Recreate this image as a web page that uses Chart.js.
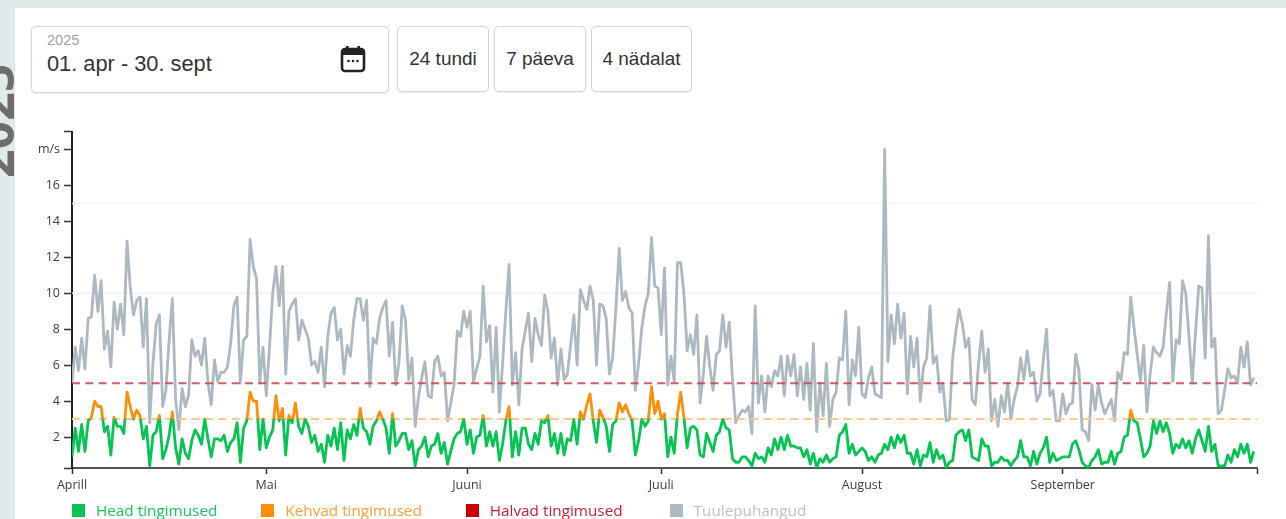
<!DOCTYPE html>
<html lang="et">
<head>
<meta charset="utf-8">
<title>Tuul</title>
<script src="https://cdn.jsdelivr.net/npm/chart.js@4/dist/chart.umd.min.js"></script>
<style>
    html, body { margin: 0; height: 100%; overflow: hidden; background: #dfeaea; }
    body { font-family: "Liberation Sans", sans-serif; color: #333; }
    #page { position: absolute; inset: 0; filter: blur(.5px); }
    .side-year { position: absolute; left: -31px; top: 178px; font: bold 50px/52px "Open Sans", sans-serif; color: #6e6c6c; transform-origin: 0 0; transform: rotate(-90deg); white-space: nowrap; }
    .panel { position: absolute; left: 15px; top: 8px; width: 1271px; height: 511px; background: #fff; }
    .box { position: absolute; top: 26px; height: 66px; box-sizing: border-box; border: 1.5px solid #d4d4d4; border-radius: 5px; background: #fff; box-shadow: 0 1px 2px rgba(0,0,0,.08); }
    .btn { display: flex; align-items: center; justify-content: center; font-size: 19px; color: #333; }
    .date { left: 31px; width: 358px; height: 67px; }
    .date small { position: absolute; left: 15px; top: 5px; font-size: 14.5px; color: #a2a2a2; }
    .date span { position: absolute; left: 15px; top: 24px; font-size: 21.8px; color: #333; }
    .date svg { position: absolute; left: 308px; top: 18px; }
    canvas { position: absolute; left: 15px; top: 120px; }
    .legend { position: absolute; left: 72px; top: 500px; display: flex; font: 15.3px "Open Sans", sans-serif; line-height: 20px; }
    .legend div { display: flex; align-items: center; margin-right: 44px; }
    .legend div:last-child { margin-left: 3px; }
    .legend i { width: 13px; height: 13px; margin-right: 11px; }
</style>
</head>
<body>
<div id="page">
<div class="side-year">2025</div>
<div class="panel"></div>
<div class="box date">
    <small>2025</small>
    <span>01. apr - 30. sept</span>
    <svg width="26" height="28" viewBox="0 0 26 28">
        <rect x="2" y="4" width="22" height="22" rx="3" fill="none" stroke="#222" stroke-width="2.6"/>
        <rect x="2" y="4" width="22" height="6" fill="#222"/>
        <rect x="6" y="1" width="2.6" height="5" fill="#222"/>
        <rect x="17.4" y="1" width="2.6" height="5" fill="#222"/>
        <circle cx="8.5" cy="16" r="1.3" fill="#222"/>
        <circle cx="13" cy="16" r="1.3" fill="#222"/>
        <circle cx="17.5" cy="16" r="1.3" fill="#222"/>
    </svg>
</div>
<div class="box btn" style="left:397px;width:92px">24 tundi</div>
<div class="box btn" style="left:494px;width:92px">7 päeva</div>
<div class="box btn" style="left:591px;width:101px">4 nädalat</div>
<canvas id="windChart" width="1271" height="380"></canvas>
<div class="legend" id="legend"></div>
</div>

<script>
// twice-daily readings, 1 apr - 30 sept, m/s
const gusts = [
    5.0,7.0,5.7,7.5,5.8,8.6,8.7,11.0,9.0,10.7,6.9,7.9,5.9,9.5,8.0,9.4,7.7,12.9,10.3,8.8,
    9.6,9.8,7.0,9.7,2.8,6.1,8.3,8.8,3.7,4.6,7.4,9.7,4.1,2.4,4.7,3.7,4.3,7.4,6.5,6.8,
    6.0,7.5,5.0,3.8,6.3,5.1,5.6,5.6,5.9,7.2,9.3,9.8,5.0,7.4,7.6,13.0,11.5,10.8,5.0,7.0,
    4.3,7.0,10.0,11.5,9.3,11.5,5.5,9.0,9.4,9.7,7.4,8.5,8.0,7.5,6.0,6.2,5.6,7.0,4.8,7.6,
    8.9,9.2,7.4,8.0,5.5,7.1,6.5,8.5,9.7,9.7,8.5,9.6,4.8,7.5,7.2,8.6,9.2,9.6,6.5,8.4,
    4.9,6.2,9.3,8.5,5.2,6.4,2.6,4.2,5.3,6.2,4.3,4.2,6.2,6.5,5.4,5.6,2.9,3.9,4.9,7.9,
    7.6,9.0,8.1,9.0,5.1,5.8,6.5,10.4,7.3,8.2,4.5,8.1,3.4,6.1,9.0,11.6,4.9,6.7,3.8,6.9,
    7.9,8.9,6.2,8.6,7.7,7.1,9.9,9.0,6.4,7.5,4.9,6.9,5.2,5.5,7.1,8.8,6.0,10.2,9.6,9.1,
    10.4,9.6,6.0,9.4,9.3,8.6,5.5,6.4,9.2,12.5,9.6,10.1,9.2,8.9,4.6,6.1,8.1,9.3,10.0,13.1,
    10.4,10.3,7.7,11.4,4.9,6.5,5.1,11.7,11.7,10.0,6.8,7.7,6.6,8.8,3.9,5.5,7.6,5.9,4.6,6.6,
    6.8,8.8,7.0,8.4,5.2,2.8,3.2,3.5,3.4,3.7,2.2,9.3,3.9,5.4,3.4,5.4,4.8,5.7,5.4,6.5,
    4.3,6.5,5.4,6.6,4.3,5.9,4.1,6.1,3.5,7.2,2.3,5.0,3.2,6.1,2.6,4.1,4.5,6.4,6.3,9.0,
    3.8,6.3,5.4,8.1,4.4,4.2,5.3,5.9,4.4,4.3,4.2,18.0,6.2,8.8,7.2,9.4,7.5,8.9,4.4,7.6,
    5.9,7.5,4.0,5.9,6.4,9.3,6.1,6.5,4.5,5.0,2.9,3.0,6.4,7.9,9.1,8.3,7.0,7.5,4.1,3.8,
    6.1,7.9,5.6,6.9,2.9,4.1,2.6,4.3,3.4,5.0,3.0,4.1,4.8,6.4,5.2,6.8,5.4,5.6,4.0,4.4,
    6.3,8.0,4.3,4.6,2.9,2.9,4.4,3.3,3.8,3.9,6.6,5.7,2.4,2.3,1.8,4.9,3.5,4.9,3.9,3.3,
    3.7,4.1,2.9,5.6,5.2,6.7,6.6,9.8,8.1,6.6,5.1,7.1,3.4,5.5,7.0,6.7,6.5,7.0,8.9,10.6,
    5.1,7.4,7.2,10.7,10.0,7.6,5.0,7.8,10.4,10.3,6.4,13.2,7.0,7.5,3.3,3.5,4.6,5.8,5.3,5.4,
    5.0,7.0,5.9,7.3,4.9,5.3
];
const wind = [
    0.9,2.5,1.2,2.7,1.2,2.9,3.1,4.0,3.7,3.7,2.3,2.6,1.0,3.1,2.6,2.6,2.2,4.5,3.7,3.0,
    3.5,3.2,1.9,2.6,0.4,2.1,2.3,3.2,0.8,1.3,2.1,3.4,1.4,0.5,1.9,1.1,0.8,1.8,2.4,2.1,
    1.6,3.0,1.9,0.9,1.9,1.9,1.8,2.1,1.2,1.7,1.9,2.8,0.6,2.5,2.9,4.5,4.0,4.0,1.3,3.0,
    1.4,2.0,2.4,4.3,2.9,3.6,1.0,3.2,2.8,3.9,2.6,2.2,3.0,2.6,1.7,2.1,1.2,1.6,0.6,2.1,
    1.5,2.5,1.3,2.8,0.7,2.4,1.9,2.7,2.1,3.6,2.5,2.3,1.6,2.6,2.9,3.4,3.0,2.5,1.1,3.3,
    1.5,1.8,2.2,2.2,1.3,1.8,0.4,1.3,1.5,2.0,0.9,1.5,1.6,2.2,1.1,1.7,0.5,1.2,1.9,2.2,
    2.3,3.0,1.6,2.4,1.1,2.0,2.1,3.2,1.5,2.3,1.5,2.3,0.7,1.6,2.9,3.7,0.9,2.3,1.0,2.5,
    2.5,1.6,1.3,2.2,1.6,2.9,2.8,3.2,1.5,2.2,1.1,2.2,1.0,1.9,1.8,3.0,1.6,3.4,3.0,3.8,
    4.4,2.9,1.7,3.5,3.1,2.6,1.2,2.7,2.9,3.9,3.4,3.8,3.3,2.9,1.0,1.8,3.0,2.6,2.9,4.8,
    3.3,4.0,3.0,3.3,0.9,2.0,1.1,3.3,4.5,3.1,1.4,2.5,2.6,2.4,1.0,0.9,2.2,1.7,1.2,2.1,
    2.3,3.0,2.5,2.4,0.8,0.6,0.6,0.9,0.9,0.7,0.4,1.1,0.8,0.9,0.6,1.4,1.0,1.9,1.3,2.0,
    1.3,2.1,1.5,1.5,1.4,1.4,0.9,1.3,0.5,1.1,0.3,0.8,0.6,1.0,0.6,0.8,0.9,2.1,2.3,2.7,
    1.1,1.6,1.0,1.2,1.4,1.2,0.7,0.9,0.6,1.0,1.1,1.6,1.3,2.0,1.4,2.1,1.7,2.1,1.1,1.1,
    0.5,1.3,0.4,1.0,0.9,1.7,0.6,1.3,0.8,1.0,0.3,0.6,0.7,2.1,2.3,2.4,1.8,2.4,0.9,0.8,
    0.7,1.9,1.5,1.5,0.4,0.6,0.6,0.9,0.7,0.7,0.4,0.7,0.9,1.8,0.9,0.9,0.4,1.2,0.5,1.1,
    1.4,2.0,0.6,1.1,0.7,0.8,0.9,0.9,0.9,1.6,1.8,1.3,0.6,0.4,0.3,0.7,0.9,1.3,0.5,0.6,
    0.6,1.2,0.5,1.1,1.2,2.0,2.1,3.5,2.9,2.8,1.9,0.9,1.1,1.5,2.9,2.2,2.9,2.3,2.8,2.2,
    1.1,1.6,1.4,1.9,1.4,1.8,1.1,1.9,2.4,1.8,1.2,2.6,1.2,1.6,0.4,0.4,0.4,1.0,0.6,1.3,
    0.9,1.6,1.1,1.6,0.6,1.2
];
const axisEndDay = 183;
const monthDays = [0, 30, 61, 91, 122, 153, axisEndDay];
const monthLabels = ["Aprill", "Mai", "Juuni", "Juuli", "August", "September", ""];
const yTickValues = [0.28, 2, 4, 6, 8, 10, 12, 14, 16, 18, 19];
const yTickLabels = ["", "2", "4", "6", "8", "10", "12", "14", "16", "m/s", ""];
const poorLimit = 3;
const badLimit = 5;
const gridLevels = [10, 15];
const legendNames = ["Head tingimused", "Kehvad tingimused", "Halvad tingimused", "Tuulepuhangud"];

const GREEN = "#05c552", ORANGE = "#ff8f0a", RED = "#cc0000", GREY = "#adb9c1";
const legendBoxes = [GREEN, ORANGE, RED, GREY];
const legendTexts = ["#14c85c", "#ff9f35", "#cf1f30", "#b9c4cb"];

// one reading every half day
const toPoints = (values) => values.map((y, i) => ({ x: i / 2, y }));
const levelLine = (y) => [{ x: 0, y }, { x: axisEndDay, y }];

// wind line changes colour at the limits, stops come from the y scale
function windColor(context) {
    const { chart } = context;
    const { chartArea, scales } = chart;
    if (!chartArea) return GREEN;
    const top = chartArea.top, h = chartArea.bottom - chartArea.top;
    const stop = (v) => (scales.y.getPixelForValue(v) - top) / h;
    const g = chart.ctx.createLinearGradient(0, top, 0, chartArea.bottom);
    g.addColorStop(0, RED);
    g.addColorStop(stop(badLimit), RED);
    g.addColorStop(stop(badLimit), ORANGE);
    g.addColorStop(stop(poorLimit), ORANGE);
    g.addColorStop(stop(poorLimit), GREEN);
    g.addColorStop(1, GREEN);
    return g;
}

const levelDataset = (y, color, dash, order, width) => ({
    data: levelLine(y),
    borderColor: color,
    borderDash: dash,
    borderWidth: width,
    order,
});

const tickFont = { family: "'Open Sans', sans-serif", size: 12.5 };

new Chart(document.getElementById("windChart"), {
    type: "line",
    data: {
        datasets: [
            { data: toPoints(wind), borderColor: windColor, borderWidth: 2.8, order: 1 },
            levelDataset(badLimit, "rgba(206,62,76,.85)", [8, 5.3], 2, 2),
            levelDataset(poorLimit, "#fdc88c", [8, 5.3], 3, 2),
            { data: toPoints(gusts), borderColor: GREY, borderWidth: 2.8, order: 4 },
            levelDataset(gridLevels[0], "#f1f2f5", [], 5, 1.5),
            levelDataset(gridLevels[1], "#f1f2f5", [], 6, 1.5),
        ],
    },
    options: {
        responsive: false,
        animation: false,
        layout: { padding: { top: 11, right: 29 } },
        elements: { point: { radius: 0 }, line: { tension: 0, borderJoinStyle: "round" } },
        plugins: { legend: { display: false }, tooltip: { enabled: false } },
        scales: {
            x: {
                type: "linear",
                min: 0,
                max: axisEndDay,
                border: { color: "#555", width: 2 },
                grid: { drawOnChartArea: false, tickLength: 6, tickColor: "#333", tickWidth: 1.5 },
                afterBuildTicks: (axis) => { axis.ticks = monthDays.map((value) => ({ value })); },
                afterFit: (axis) => { axis.height = 32; },
                ticks: {
                    autoSkip: false,
                    maxRotation: 0,
                    padding: 4,
                    color: "#3c3c3c",
                    font: tickFont,
                    callback: (v, i) => monthLabels[i],
                },
            },
            y: {
                min: yTickValues[0],
                max: yTickValues[yTickValues.length - 1],
                border: { color: "#222", width: 2 },
                grid: { drawOnChartArea: false, tickLength: 8, tickColor: "#333", tickWidth: 1.5 },
                afterBuildTicks: (axis) => { axis.ticks = yTickValues.map((value) => ({ value })); },
                afterFit: (axis) => { axis.width = 57; },
                ticks: {
                    autoSkip: false,
                    padding: 4,
                    color: "#3c3c3c",
                    font: tickFont,
                    callback: (v, i) => yTickLabels[i],
                },
            },
        },
    },
});

const legend = document.getElementById("legend");
legendNames.forEach((name, i) => {
    const item = document.createElement("div");
    item.innerHTML = `<i style="background:${legendBoxes[i]}"></i><span style="color:${legendTexts[i]}">${name}</span>`;
    legend.appendChild(item);
});
</script>
</body>
</html>
